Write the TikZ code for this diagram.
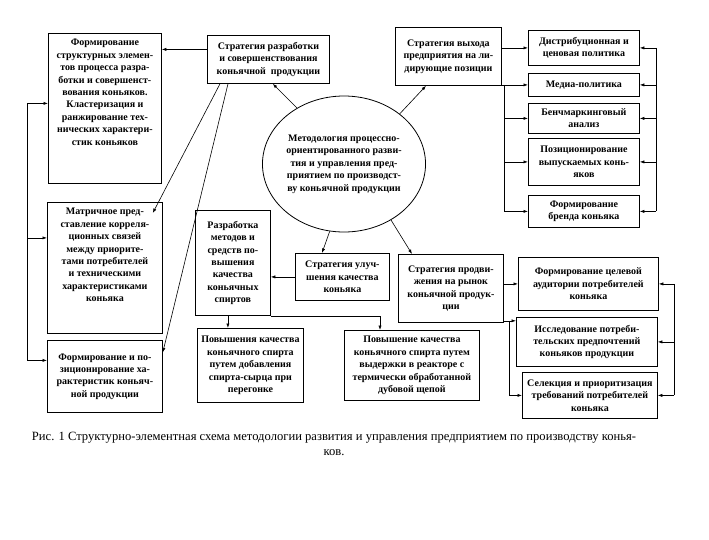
\documentclass[tikz,border=0pt]{standalone}
\usepackage{fontspec}
\setmainfont{Liberation Serif}
\usepackage{tikz}
\usetikzlibrary{arrows.meta,shapes.geometric}

\begin{document}
\begin{tikzpicture}[x=1pt, y=-1pt,
  font=\fontsize{10}{12.4}\selectfont\bfseries,
  blk/.style={draw, line width=0.8pt, align=center, inner sep=3pt, anchor=north west},
  oval/.style={draw, ellipse, line width=0.8pt, align=center, inner sep=0pt},
  arr/.style={line width=0.6pt, -{Latex[length=4.5pt,width=3.2pt]}},
  ln/.style={line width=0.6pt},
  capt/.style={font=\fontsize{12.6}{15}\selectfont, align=center},
]
\useasboundingbox (0,0) rectangle (709,539);

% left column
\node[blk] (strukt) at (48,33) {\parbox[t][144pt][t]{107pt}{\centering\vspace*{3pt}Формирование\\ структурных элемен-\\ тов процесса разра-\\ ботки и совершенст-\\ вования коньяков.\\ Кластеризация и\\ ранжирование тех-\\ нических характери-\\ стик коньяков}};
\node[blk] (matr) at (47,202) {\parbox[t][125pt][t]{109pt}{\centering\vspace*{3pt}Матричное пред-\\ ставление корреля-\\ ционных связей\\ между приорите-\\ тами потребителей\\ и техническими\\ характеристиками\\ коньяка}};
\node[blk, minimum width=115, minimum height=72] (formpoz) at (47,340) {Формирование и по-\\ зиционирование ха-\\ рактеристик коньяч-\\ ной продукции};

% centre
\node[blk, minimum width=122, minimum height=48] (strat1) at (207,35) {Стратегия разработки\\ и совершенствования\\ коньячной\ \ продукции};
\node[oval, minimum width=160, minimum height=136] (metod) at (344,164) {Методология процессно-\\ ориентированного разви-\\ тия и управления пред-\\ приятием по производст-\\ ву коньячной продукции};
\node[blk, minimum width=106, minimum height=58] (strat2) at (395,27) {Стратегия выхода\\ предприятия на ли-\\ дирующие позиции};
\node[blk, minimum width=75, minimum height=105] (razr) at (195,210) {Разработка\\ методов и\\ средств по-\\ вышения\\ качества\\ коньячных\\ спиртов};
\node[blk, minimum width=94, minimum height=47] (strat3) at (295,253) {Стратегия улуч-\\ шения качества\\ коньяка};
\node[blk, minimum width=105, minimum height=68] (strat4) at (398,254) {Стратегия продви-\\ жения на рынок\\ коньячной продук-\\ ции};
\node[blk, minimum width=106, minimum height=74] (pov1) at (197,328) {Повышения качества\\ коньячного спирта\\ путем добавления\\ спирта-сырца при\\ перегонке};
\node[blk, minimum width=135, minimum height=70] (pov2) at (344,330) {Повышение качества\\ коньячного спирта путем\\ выдержки в реакторе с\\ термически обработанной\\ дубовой щепой};

% right column
\node[blk, minimum width=111, minimum height=35] (distr) at (528,30) {Дистрибуционная и\\ ценовая политика};
\node[blk, minimum width=111, minimum height=23] (media) at (528,73) {Медиа-политика};
\node[blk, minimum width=111, minimum height=30] (bench) at (528,103) {Бенчмаркинговый\\ анализ};
\node[blk, minimum width=111, minimum height=47] (pozic) at (528,138) {Позиционирование\\ выпускаемых конь-\\ яков};
\node[blk, minimum width=111, minimum height=32] (brend) at (528,195) {Формирование\\ бренда коньяка};
\node[blk, minimum width=140, minimum height=53] (aud) at (518,257) {Формирование целевой\\ аудитории потребителей\\ коньяка};
\node[blk, minimum width=141, minimum height=49] (issl) at (516,317) {Исследование потреби-\\ тельских предпочтений\\ коньяков продукции};
\node[blk, minimum width=135, minimum height=46] (sel) at (522,372) {Селекция и приоритизация\\ требований потребителей\\ коньяка};

\node[capt] (podpis) at (334,444) {Рис. 1 Структурно-элементная схема методологии развития и управления предприятием по производству конья-\\ ков.};

% from the ellipse
\draw[arr] (metod.130) -- ([xshift=-57pt]strat1.south east);
\draw[arr] (metod.42) -- ([xshift=31pt]strat2.south west);
\draw[arr] (metod.258) -- ([xshift=27pt]strat3.north west);
\draw[arr] (metod.310) -- ([xshift=14pt]strat4.north west);

% strategy of development
\draw[arr] ([yshift=10pt]strat1.west) -- ([yshift=10pt]strat1.west -| strukt.east);
\draw[arr] ([xshift=13pt]strat1.south west) -- ([xshift=-10pt,yshift=-11pt]matr.north east);
\draw[arr] ([xshift=21pt]strat1.south west) -- ([yshift=24pt]formpoz.east);

% left bus
\coordinate (busL) at (27,0);
\coordinate (inA) at ([yshift=5pt]strukt.west);
\coordinate (inD) at ([yshift=30pt]matr.west);
\coordinate (inE) at ([yshift=16pt]formpoz.west);
\draw[ln] (busL |- inA) -- (busL |- inE);
\foreach \p in {inA,inD,inE}
  \draw[arr] (busL |- \p) -- (\p);

% leading positions
\coordinate (jC) at (504,0);
\draw[arr] (strat2.east |- distr) -- (distr);
\draw[arr] (strat2.east |- media) -- (media);
\draw[ln] (jC |- media) -- (jC |- brend);
\foreach \n in {bench,pozic,brend}
  \draw[arr] (jC |- \n) -- (\n);
\coordinate (busR) at (656,0);
\draw[ln] (busR |- distr) -- (busR |- brend);
\foreach \n in {distr,media,bench,pozic,brend}
  \draw[arr] (busR |- \n) -- (\n);

% quality
\draw[arr] (strat3.west) -- (strat3.west -| razr.east);
\draw[arr] ([xshift=-5pt]razr.south) -- ([xshift=-5pt]razr.south |- pov1.north);
\draw[arr] (razr.south east) -| ([xshift=36pt]pov2.north west);

% market
\coordinate (jG) at ([yshift=2pt]strat4.south east);
\draw[arr] (strat4.east |- aud) -- (aud);
\draw[arr] (jG) -- (jG -| issl.west);
\draw[arr] ([xshift=5pt]jG) |- (sel);
\coordinate (busK) at (674,0);
\draw[ln] (busK |- aud) -- (busK |- sel);
\foreach \n in {aud,issl,sel}
  \draw[arr] (busK |- \n) -- (\n);
\end{tikzpicture}
\end{document}
